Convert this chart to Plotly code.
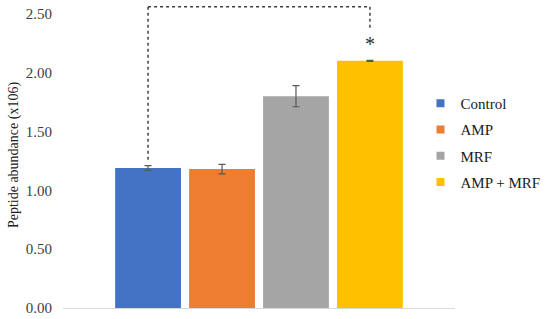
import plotly.graph_objects as go

groups = ['Control', 'AMP', 'MRF', 'AMP + MRF']
means = [1.19, 1.18, 1.80, 2.10]
errors = [0.02, 0.04, 0.09, 0.005]
colors = ['#4472C4', '#ED7D31', '#A5A5A5', '#FFC000']
yticks = [0, 0.5, 1.0, 1.5, 2.0, 2.5]

font = 'Liberation Serif'

fig = go.Figure()
for i, g in enumerate(groups):
    fig.add_trace(go.Bar(x=[i], y=[means[i]], width=0.89, marker=dict(color=colors[i], line=dict(width=0)),
                         error_y=dict(type='data', array=[errors[i]], color='#595959', thickness=1.2, width=3.5),
                         showlegend=False))
    # legend entry with small square symbol
    fig.add_trace(go.Scatter(x=[None], y=[None], mode='markers', name=g, legendgroup=g,
                             marker=dict(symbol='square', size=8, color=colors[i])))

# significance bracket Control vs AMP + MRF
line_style = dict(color='#404040', width=1.5, dash='dot')
fig.add_shape(type='line', x0=0, x1=0, y0=1.26, y1=2.56, line=line_style)
fig.add_shape(type='line', x0=0, x1=3, y0=2.56, y1=2.56, line=line_style)
fig.add_shape(type='line', x0=3, x1=3, y0=2.56, y1=2.37, line=line_style)
fig.add_annotation(x=3, y=2.24, text='*', showarrow=False, font=dict(family=font, size=20, color='#303030'))

fig.update_layout(
    width=550, height=319,
    margin=dict(l=63, r=95, t=2, b=11),
    plot_bgcolor='white', paper_bgcolor='white',
    barmode='overlay',
    font=dict(family=font, size=15, color='#404040'),
    xaxis=dict(range=[-1.15, 4.15], showticklabels=False, showgrid=False, zeroline=False,
               showline=True, linecolor='#D9D9D9', linewidth=1),
    yaxis=dict(range=[0, 2.6], tickvals=yticks, tickformat='.2f', showgrid=False, zeroline=False,
               showline=False, ticklabelstandoff=10, tickfont=dict(family=font, size=15, color='#404040'),
               title=dict(text='Peptide abundance (x106)', font=dict(family=font, size=14, color='#202020'),
                          standoff=3)),
    legend=dict(x=0.912, y=0.722, xanchor='left', yanchor='top',
                tracegroupgap=3.7, itemwidth=30,
                font=dict(family=font, size=15, color='#202020'), bgcolor='rgba(0,0,0,0)'),
)

# drop the default 8px body margin so the figure sits at the page corner
fig.write_html("out.html", config={'displayModeBar': False},
               post_script="document.body.style.margin='0';")
